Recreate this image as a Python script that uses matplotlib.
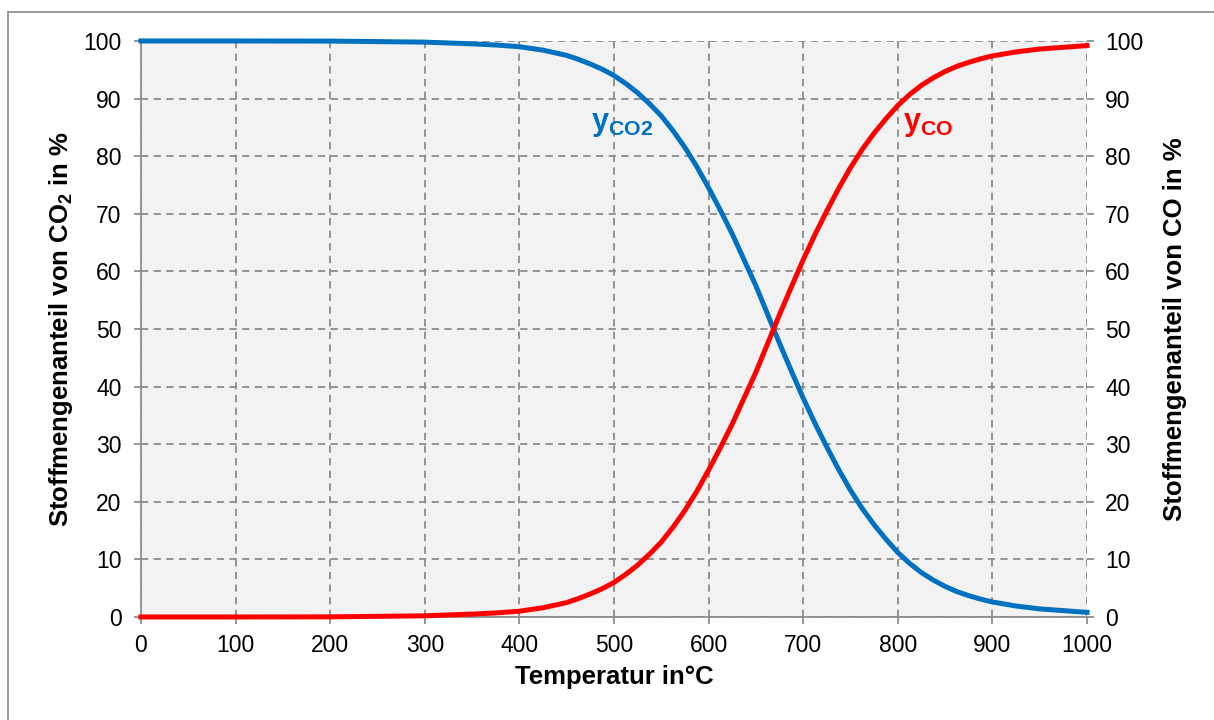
import matplotlib
matplotlib.use('Agg')
import matplotlib.pyplot as plt
from matplotlib.lines import Line2D

plt.rcParams['font.family'] = ['Liberation Sans', 'DejaVu Sans']
plt.rcParams['mathtext.fontset'] = 'custom'
plt.rcParams['mathtext.rm'] = 'Liberation Sans'
plt.rcParams['mathtext.bf'] = 'Liberation Sans:bold'

# Gleichgewicht C + CO2 <-> 2 CO, Werte in %
temperatur = [0, 100, 200, 300, 350, 375, 400, 425, 450, 462.5, 475, 487.5, 500,
              512.5, 525, 537.5, 550, 562.5, 575, 587.5, 600, 612.5, 625, 637.5,
              650, 662.5, 675, 687.5, 700, 712.5, 725, 737.5, 750, 762.5, 775,
              787.5, 800, 812.5, 825, 837.5, 850, 862.5, 875, 887.5, 900, 925,
              950, 975, 1000]
y_co = [0.0, 0.0, 0.02, 0.2, 0.5, 0.7, 1.0, 1.6, 2.5, 3.2, 4.0, 4.9, 6.0,
        7.4, 9.0, 10.9, 13.0, 15.6, 18.5, 21.8, 25.5, 29.4, 33.5, 38.0,
        42.5, 47.5, 52.5, 57.3, 62.0, 66.4, 70.5, 74.4, 78.0, 81.2, 84.0,
        86.5, 88.8, 90.7, 92.3, 93.6, 94.7, 95.6, 96.3, 96.9, 97.4, 98.1,
        98.6, 98.9, 99.2]
y_co2 = [100 - v for v in y_co]

x_ticks = list(range(0, 1001, 100))
y_ticks = list(range(0, 101, 10))

fig = plt.figure(figsize=(12.14, 7.2), dpi=100)
ax = fig.add_axes([0.1161, 0.1431, 0.7793, 0.8])
ax.set_facecolor('#f2f2f2')

ax.plot(temperatur, y_co2, color='#0070c0', lw=3.6, zorder=3, clip_on=False,
        solid_joinstyle='round')
ax.plot(temperatur, y_co, color='#ff0000', lw=3.6, zorder=3, clip_on=False,
        solid_joinstyle='round')

ax.set_xlim(0, 1000)
ax.set_ylim(0, 100)
ax.set_xticks(x_ticks)
ax.set_yticks(y_ticks)
ax.grid(True, color='#8c8c8c', ls=(0, (4, 3)), lw=1.3)
ax.set_axisbelow(True)
for s in ['top', 'right']:
    ax.spines[s].set_visible(False)
for s in ['left', 'bottom']:
    ax.spines[s].set_color('#8c8c8c')
    ax.spines[s].set_linewidth(1.3)
ax.tick_params(axis='y', labelsize=16.5, color='#8c8c8c', length=5, width=1.3, pad=9)
ax.tick_params(axis='x', labelsize=16.5, color='#8c8c8c', length=5, width=1.3, pad=7)

ax2 = ax.twinx()
ax2.set_ylim(0, 100)
ax2.set_yticks(y_ticks)
for s in ['top', 'right', 'left', 'bottom']:
    ax2.spines[s].set_visible(False)
ax2.tick_params(axis='y', labelsize=16.5, color='#8c8c8c', length=5, width=1.3, pad=8)

ax.set_xlabel('Temperatur in°C', fontsize=18.5, fontweight='bold', labelpad=6)
ax.set_ylabel(r'Stoffmengenanteil von CO$_\mathbf{2}$ in %', fontsize=18.5,
              fontweight='bold', labelpad=6)
ax2.set_ylabel('Stoffmengenanteil von CO in %', fontsize=18.5, fontweight='bold',
               labelpad=14)

ax.text(476, 85.5, r'$\mathbf{y}_{\mathbf{CO2}}$', color='#0070c0', fontsize=22,
        va='center', ha='left')
ax.text(805, 85.5, r'$\mathbf{y}_{\mathbf{CO}}$', color='#ff0000', fontsize=22,
        va='center', ha='left')

# Rahmen um das Diagramm
fig.add_artist(Line2D([8 / 1214, 8 / 1214], [0, 1 - 12 / 720], color='#8c8c8c', lw=1.2))
fig.add_artist(Line2D([8 / 1214, 1], [1 - 12 / 720, 1 - 12 / 720], color='#8c8c8c', lw=1.2))

fig.savefig('out.png', dpi=100)
